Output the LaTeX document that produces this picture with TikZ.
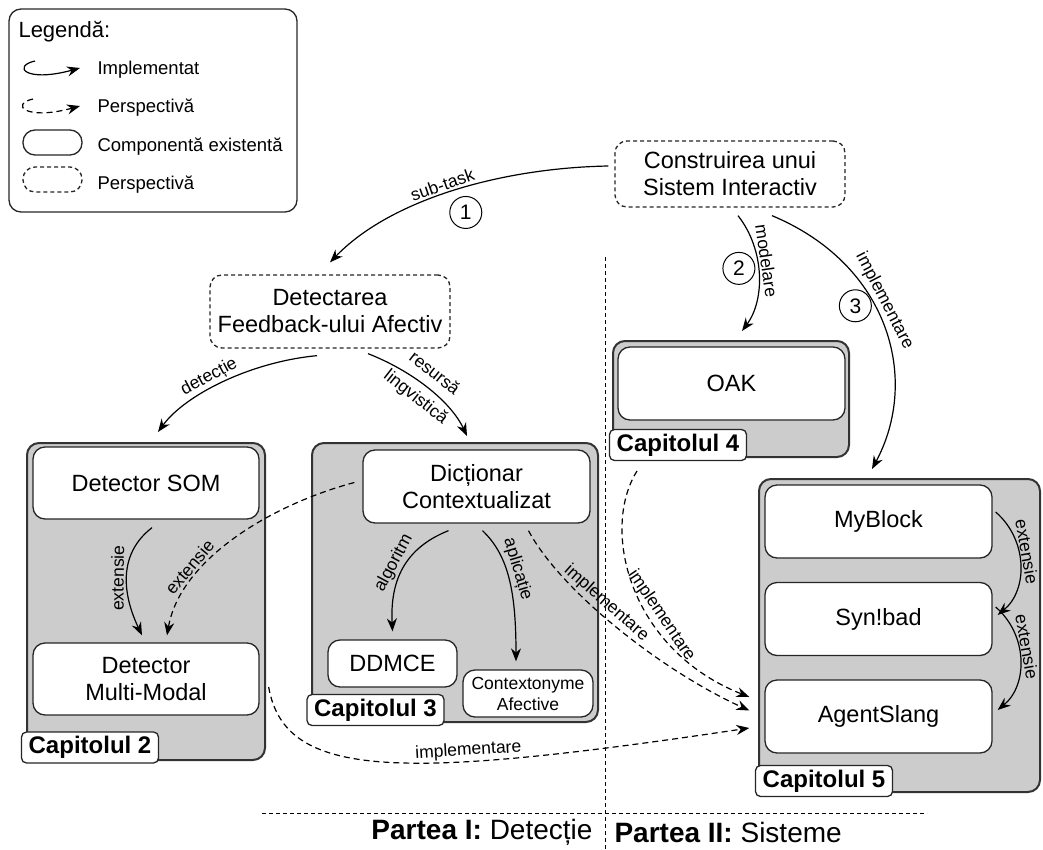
\documentclass[tikz,border=0pt]{standalone}
\usepackage{fontspec}
\setmainfont{Liberation Sans}
\usetikzlibrary{arrows.meta}

\begin{document}
\begin{tikzpicture}[x=1pt, y=-1pt,
    every node/.style={font=\fontsize{23.5}{27}\selectfont},
    comp/.style={draw=black!85, line width=1.3pt, fill=white, rounded corners=12pt, align=center, inner sep=0pt},
    persp/.style={comp, dash pattern=on 4pt off 3pt},
    chapter/.style={draw=black!80, line width=2pt, fill=black!20, rounded corners=12pt, inner sep=0pt},
    chaplabel/.style={draw=black!85, line width=1.3pt, fill=white, rounded corners=5pt, inner sep=0pt,
        minimum width=137pt, minimum height=31pt, font=\bfseries\fontsize{24}{26}\selectfont},
    impl/.style={-{Stealth[length=13pt,width=10pt]}, line width=1.2pt},
    future/.style={impl, dash pattern=on 6pt off 4pt},
    lbl/.style={font=\fontsize{17.5}{20}\selectfont, sloped, inner sep=2pt},
    nr/.style={circle, draw, line width=1pt, minimum size=32pt, inner sep=0pt, font=\fontsize{21}{21}\selectfont},
    divider/.style={line width=1pt, dash pattern=on 4pt off 3pt}
]
\useasboundingbox (0,0) rectangle (1043,850);

% legend
\node[comp, fill=none, minimum width=288pt, minimum height=203pt] (legend) at (153,110.5) {};
\node[anchor=west, font=\fontsize{22}{24}\selectfont] (legtitle) at (15,32) {Legendă:};
\draw[impl] (35,61) .. controls (12,66) and (25,83) .. (80,68);
\draw[future] (33,99) .. controls (10,104) and (25,121) .. (80,106);
\draw[comp] (23,130) rectangle (82,155);
\draw[persp] (23,167) rectangle (82,192);
\foreach \y/\t in {70/Implementat, 108/Perspectivă, 147/Componentă existentă, 185/Perspectivă}
    \node[anchor=west, font=\fontsize{18.5}{20}\selectfont] at (94,\y) {\t};

% chapters
\node[chapter, minimum width=238pt, minimum height=317pt] (cap2) at (146,601.5) {};
\node[chapter, minimum width=286pt, minimum height=279pt] (cap3) at (455,582.5) {};
\node[chapter, minimum width=236pt, minimum height=116pt] (cap4) at (731,399) {};
\node[chapter, minimum width=281pt, minimum height=313pt] (cap5) at (899.5,635.5) {};

% top level tasks
\node[persp, minimum width=230pt, minimum height=66pt] (sys) at (730,174) {Construirea unui\\Sistem Interactiv};
\node[persp, minimum width=240pt, minimum height=73pt] (det) at (330,311.5) {Detectarea\\Feedback-ului Afectiv};

% components
\node[comp, minimum width=226pt, minimum height=72pt] (som) at (146,483) {Detector SOM};
\node[comp, minimum width=226pt, minimum height=72pt] (mm) at (146,679) {Detector\\Multi-Modal};
\node[comp, minimum width=227pt, minimum height=73pt] (dict) at (476.5,486.5) {Dicționar\\Contextualizat};
\node[comp, minimum width=129pt, minimum height=47pt] (ddmce) at (392.5,663.5) {DDMCE};
\node[comp, minimum width=130pt, minimum height=47pt, font=\fontsize{17.5}{21}\selectfont] (ctx) at (528,693.5) {Contextonyme\\Afective};
\node[comp, minimum width=227pt, minimum height=73pt] (oak) at (731.5,383.5) {OAK};
\foreach \n/\y/\t in {myblock/521.5/MyBlock, synbad/619/Syn!bad, agent/716.5/AgentSlang}
    \node[comp, minimum width=227pt, minimum height=73pt] (\n) at (878.5,\y) {\t};

\node[chaplabel] (cap2lbl) at (90,747.5) {Capitolul 2};
\node[chaplabel] (cap3lbl) at (375.5,710) {Capitolul 3};
\node[chaplabel] (cap4lbl) at (678,445) {Capitolul 4};
\node[chaplabel] (cap5lbl) at (824,781) {Capitolul 5};

% arrows
\draw[impl] ([xshift=-6pt,yshift=8pt]sys.west) .. controls (500,168) and (390,200) .. ([yshift=12pt]det.north)
    node[lbl, above, pos=0.52] {sub-task} node[nr, below=9pt, pos=0.45] {1};
\draw[impl] ([xshift=8pt,yshift=-8pt]sys.south) .. controls (765,250) and (765,300) .. ([xshift=11pt,yshift=9pt]cap4.north)
    node[lbl, above, pos=0.4] {modelare} node[nr, left=3pt, pos=0.45] {2};
\draw[impl] ([xshift=42pt,yshift=-8pt]sys.south) .. controls (890,265) and (920,380) .. ([xshift=-27.5pt,yshift=9pt]cap5.north)
    node[lbl, above, pos=0.42] {implementare} node[nr, left=3pt, pos=0.42] {3};
\draw[impl] ([xshift=-13pt,yshift=-7pt]det.south) .. controls (250,362) and (185,395) .. ([xshift=12pt,yshift=10pt]cap2.north)
    node[lbl, above, pos=0.55] {detecție};
\draw[impl] ([xshift=38pt,yshift=-5pt]det.south) .. controls (410,370) and (450,400) .. ([xshift=12pt,yshift=6pt]cap3.north)
    node[lbl, align=center, pos=0.48, font=\fontsize{17.5}{30}\selectfont] {resursă\\lingvistică};
\draw[impl] ([xshift=6pt,yshift=-8pt]som.south) .. controls (110,560) and (130,610) .. ([xshift=-4pt,yshift=7pt]mm.north)
    node[lbl, above, pos=0.45] {extensie};
\draw[future] ([xshift=-8pt,yshift=4pt]dict.west) .. controls (270,505) and (180,560) .. ([xshift=21pt,yshift=7pt]mm.north)
    node[lbl, above, pos=0.7, inner sep=3pt] {extensie};
\draw[impl] ([xshift=-28pt,yshift=-7pt]dict.south) .. controls (405,548) and (390,580) .. ([yshift=8pt]ddmce.north)
    node[lbl, above, pos=0.5] {algoritm};
\draw[impl] ([xshift=6pt,yshift=-7pt]dict.south) .. controls (508,555) and (516,590) .. ([xshift=-12pt,yshift=8pt]ctx.north)
    node[lbl, above, pos=0.45] {aplicație};
\draw[future] ([xshift=52pt,yshift=-7pt]dict.south) .. controls (560,590) and (660,670) .. ([xshift=-15pt,yshift=6pt]agent.west)
    node[lbl, above, pos=0.42, inner sep=3pt] {implementare};
\draw[future] ([xshift=25pt,yshift=-13pt]cap4.south west) .. controls (600,530) and (630,650) .. ([xshift=-15pt,yshift=19.5pt]agent.west)
    node[lbl, above, pos=0.63] {implementare};
\draw[future] ([xshift=9pt,yshift=-8pt]mm.east) .. controls (285,780) and (400,780) .. ([xshift=-15pt,yshift=-11.5pt]agent.west)
    node[lbl, above, pos=0.66] {implementare};
\draw[impl] ([xshift=3pt,yshift=9.5pt]myblock.east) .. controls (1028,540) and (1028,590) .. ([xshift=5pt,yshift=4pt]synbad.east)
    node[lbl, above, pos=0.4, inner sep=1pt] {extensie};
\draw[impl] ([xshift=3pt,yshift=12pt]synbad.east) .. controls (1028,635) and (1028,685) .. ([xshift=5pt,yshift=6.5pt]agent.east)
    node[lbl, above, pos=0.4, inner sep=1pt] {extensie};

% parts
\draw[divider] (605,257) -- (605,850);
\draw[divider] (262,813) -- (927,813);
\node[anchor=east, font=\fontsize{28}{30}\selectfont] (parteaI) at (596,832) {\textbf{Partea I:} Detecție};
\node[anchor=west, font=\fontsize{28}{30}\selectfont] (parteaII) at (611,832) {\textbf{Partea II:} Sisteme};

\end{tikzpicture}
\end{document}
